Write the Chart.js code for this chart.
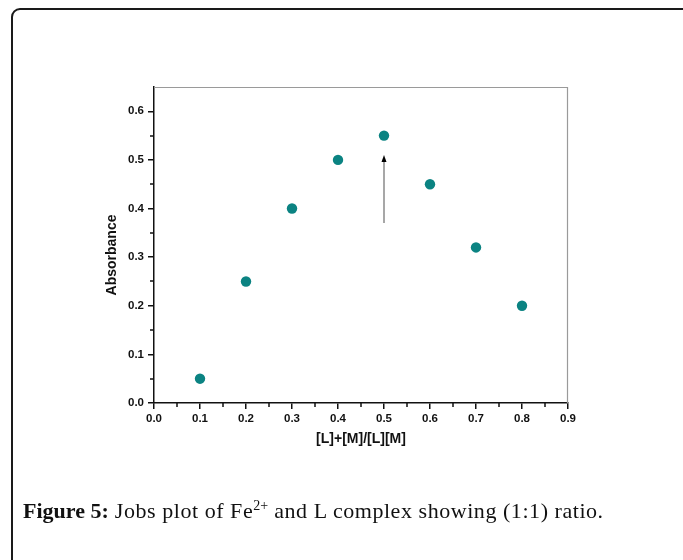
<!DOCTYPE html>
<html><head><meta charset="utf-8">
<script src="https://cdn.jsdelivr.net/npm/chart.js@4.4.0/dist/chart.umd.min.js"></script>
<style>
body{margin:0;background:#fff;}
#wrap{position:relative;width:683px;height:560px;overflow:hidden;background:#fff;}
#frame{position:absolute;left:11px;top:8px;width:720px;height:640px;border:2px solid #1a1a1a;border-radius:9px;box-sizing:border-box;}
#c{position:absolute;left:0;top:0;}
#cap{position:absolute;left:23px;top:500px;font-family:"Liberation Serif","DejaVu Serif",serif;font-size:22px;line-height:22px;color:#111;white-space:nowrap;}
#cap .r{letter-spacing:0.55px;}
#cap sup{font-size:14px;line-height:0;vertical-align:8px;letter-spacing:0;}
</style></head>
<body>
<div id="wrap">
<div id="frame"></div>
<canvas id="c" width="683" height="560"></canvas>
<div id="cap"><b>Figure 5:</b><span class="r"> Jobs plot of Fe<sup>2+</sup> and L complex showing (1:1) ratio.</span></div>
</div>
<script>
const moleFraction = [0.1, 0.2, 0.3, 0.4, 0.5, 0.6, 0.7, 0.8];
const absorbance = [0.05, 0.25, 0.40, 0.50, 0.55, 0.45, 0.32, 0.20];
const xTickValues = [0.0, 0.1, 0.2, 0.3, 0.4, 0.5, 0.6, 0.7, 0.8, 0.9];
const yTickValues = [0.0, 0.1, 0.2, 0.3, 0.4, 0.5, 0.6];
const xMinorTicks = [0.05, 0.15, 0.25, 0.35, 0.45, 0.55, 0.65, 0.75, 0.85];
const yMinorTicks = [0.05, 0.15, 0.25, 0.35, 0.45, 0.55];
const arrowX = [0.5, 0.5];
const arrowY = [0.37, 0.51];
const xTitle = '[L]+[M]/[L][M]';
const yTitle = 'Absorbance';

const tickFont = {family: '"Liberation Sans", Arial, sans-serif', size: 11.5, weight: 'bold'};
const titleFont = {family: '"Liberation Sans", Arial, sans-serif', size: 14, weight: 'bold'};

const extras = {
  id: 'extras',
  afterDraw(chart) {
    const ctx = chart.ctx, a = chart.chartArea;
    const xs = chart.scales.x, ys = chart.scales.y;
    ctx.save();
    // top and right frame
    ctx.strokeStyle = '#9a9a9a';
    ctx.lineWidth = 1.2;
    ctx.beginPath();
    ctx.moveTo(a.left, a.top + 0.5); ctx.lineTo(a.right, a.top + 0.5);
    ctx.moveTo(a.right - 0.5, a.top); ctx.lineTo(a.right - 0.5, a.bottom);
    ctx.stroke();
    // minor ticks
    ctx.strokeStyle = '#111';
    ctx.lineWidth = 1.5;
    ctx.beginPath();
    xMinorTicks.forEach(v => {
      const px = Math.round(xs.getPixelForValue(v));
      ctx.moveTo(px, a.bottom); ctx.lineTo(px, a.bottom + 4);
    });
    yMinorTicks.forEach(v => {
      const py = Math.round(ys.getPixelForValue(v));
      ctx.moveTo(a.left, py); ctx.lineTo(a.left - 4, py);
    });
    ctx.stroke();
    // y axis title
    ctx.save();
    ctx.translate(112, 255);
    ctx.rotate(-Math.PI / 2);
    ctx.font = 'bold 14px "Liberation Sans", Arial, sans-serif';
    ctx.fillStyle = '#111';
    ctx.textAlign = 'center';
    ctx.textBaseline = 'middle';
    ctx.fillText(yTitle, 0, 0);
    ctx.restore();
    // arrow
    const x0 = xs.getPixelForValue(arrowX[0]), y0 = ys.getPixelForValue(arrowY[0]);
    const x1 = xs.getPixelForValue(arrowX[1]), y1 = ys.getPixelForValue(arrowY[1]);
    ctx.strokeStyle = '#8a8a8a';
    ctx.lineWidth = 1.5;
    ctx.beginPath();
    ctx.moveTo(x0, y0); ctx.lineTo(x1, y1 + 5);
    ctx.stroke();
    ctx.fillStyle = '#000';
    ctx.beginPath();
    ctx.moveTo(x1, y1);
    ctx.lineTo(x1 - 2.5, y1 + 7);
    ctx.lineTo(x1 + 2.5, y1 + 7);
    ctx.closePath();
    ctx.fill();
    ctx.restore();
  }
};

new Chart(document.getElementById('c'), {
  type: 'scatter',
  data: {
    datasets: [{
      data: moleFraction.map((x, i) => ({x: x, y: absorbance[i]})),
      backgroundColor: '#0b8382',
      borderColor: '#0b8382',
      borderWidth: 0,
      pointRadius: 5.2,
      pointHoverRadius: 5.2,
      showLine: false,
      clip: false
    }]
  },
  options: {
    responsive: false,
    animation: false,
    devicePixelRatio: 1,
    layout: {padding: {left: 90, top: 87, right: 115, bottom: 97}},
    plugins: {legend: {display: false}, tooltip: {enabled: false}},
    scales: {
      x: {
        type: 'linear', min: 0, max: 0.9,
        afterBuildTicks: s => { s.ticks = xTickValues.map(v => ({value: v})); },
        afterFit: s => { s.height = 60; },
        ticks: {font: tickFont, color: '#111', padding: 3, maxRotation: 0, autoSkip: false,
          callback: v => Number(v).toFixed(1)},
        grid: {drawOnChartArea: false, drawTicks: true, tickLength: 6, tickColor: '#111', lineWidth: 1.5},
        border: {display: true, color: '#111', width: 1.5},
        title: {display: true, text: xTitle, font: titleFont, color: '#111', padding: {top: 0, bottom: 15}}
      },
      y: {
        type: 'linear', min: 0, max: 0.65,
        afterBuildTicks: s => { s.ticks = yTickValues.map(v => ({value: v})); },
        afterFit: s => { s.width = 64; },
        ticks: {font: tickFont, color: '#111', padding: 4, autoSkip: false,
          callback: v => Number(v).toFixed(1)},
        grid: {drawOnChartArea: false, drawTicks: true, tickLength: 6, tickColor: '#111', lineWidth: 1.5},
        border: {display: true, color: '#111', width: 1.5},
        title: {display: false}
      }
    }
  },
  plugins: [extras]
});
</script>
</body></html>
